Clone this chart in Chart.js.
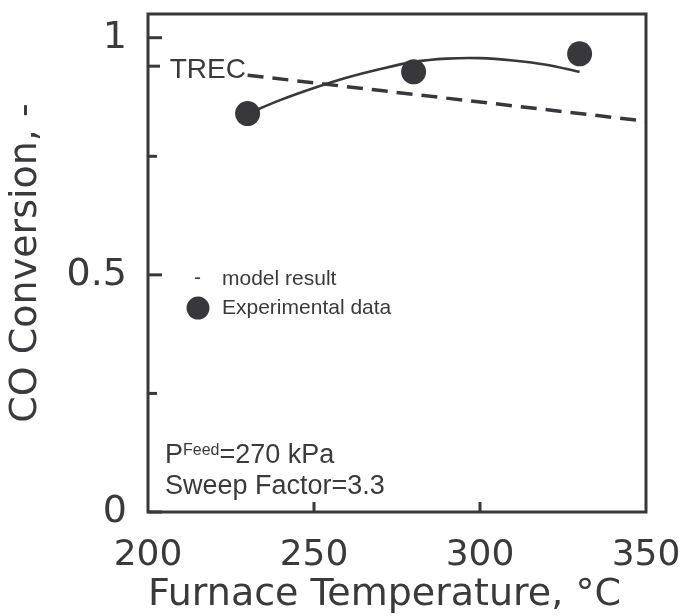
<!DOCTYPE html>
<html>
<head>
<meta charset="utf-8">
<script src="https://cdn.jsdelivr.net/npm/chart.js@4/dist/chart.umd.min.js"></script>
<style>
  html, body { margin: 0; padding: 0; background: #ffffff; }
  #wrap { width: 680px; height: 616px; position: relative; }
</style>
</head>
<body>
<div id="wrap"><canvas id="c" width="680" height="616"></canvas></div>
<script>
// ---- data ----
const expTemps = [230, 280, 330];
const expConversion = [0.840, 0.928, 0.966];

const fitTemps = [230, 240, 250, 260, 270, 280, 290, 300, 310, 320, 330];
const fitConversion = [0.840, 0.869, 0.894, 0.916, 0.934, 0.949, 0.956, 0.957, 0.952, 0.943, 0.928];

const modelTemps = [230, 350];
const modelConversion = [0.921, 0.824];

const xTickLabels = [200, 250, 300, 350];
const yTickLabels = [0, 0.5, 1];
const yMinorTicks = [0.25, 0.75];
const trecValue = 0.94;
const xInnerTicks = [250, 300];

const INK = '#38383c';
const TEXT = '#3a3a3c';

function pts(xs, ys) { return xs.map((x, i) => ({ x: x, y: ys[i] })); }

const framePlugin = {
  id: 'frame',
  afterDatasetsDraw(chart) {
    const { ctx, chartArea: a, scales: { x, y } } = chart;
    ctx.save();
    ctx.strokeStyle = INK;
    ctx.lineWidth = 3;
    ctx.lineCap = 'butt';
    ctx.strokeRect(a.left, a.top, a.right - a.left, a.bottom - a.top);
    // y tick marks (inside)
    ctx.lineWidth = 3;
    const yMarks = [];
    yTickLabels.forEach(v => yMarks.push([v, 14]));
    yMinorTicks.forEach(v => yMarks.push([v, 9]));
    yMarks.push([trecValue, 12]);
    yMarks.forEach(([v, len]) => {
      const py = y.getPixelForValue(v);
      ctx.beginPath();
      ctx.moveTo(a.left, py);
      ctx.lineTo(a.left + len, py);
      ctx.stroke();
    });
    // x tick marks (inside)
    xInnerTicks.forEach(v => {
      const px = x.getPixelForValue(v);
      ctx.beginPath();
      ctx.moveTo(px, a.bottom);
      ctx.lineTo(px, a.bottom - 10);
      ctx.stroke();
    });

    // annotations
    ctx.fillStyle = TEXT;
    ctx.textBaseline = 'middle';
    // TREC label
    ctx.font = '28px "Liberation Sans", Arial, sans-serif';
    ctx.textAlign = 'right';
    ctx.fillText('TREC', x.getPixelForValue(229.5), y.getPixelForValue(trecValue) + 4);

    // legend
    ctx.textAlign = 'left';
    ctx.font = '21px "Liberation Sans", Arial, sans-serif';
    const lx = a.left + 50, tx = a.left + 74;
    const ly1 = y.getPixelForValue(0.49), ly2 = y.getPixelForValue(0.43);
    ctx.fillText('-', lx - 4, ly1 - 1);
    ctx.fillText('model result', tx, ly1);
    ctx.beginPath();
    ctx.arc(lx, ly2, 11.5, 0, Math.PI * 2);
    ctx.fillStyle = INK;
    ctx.fill();
    ctx.fillStyle = TEXT;
    ctx.fillText('Experimental data', tx, ly2);

    // conditions
    ctx.textBaseline = 'alphabetic';
    const cx = a.left + 17;
    ctx.font = '27px "Liberation Sans", Arial, sans-serif';
    ctx.fillText('P', cx, 463);
    const pw = ctx.measureText('P').width;
    ctx.font = '16px "Liberation Sans", Arial, sans-serif';
    ctx.fillText('Feed', cx + pw, 455);
    const fw = ctx.measureText('Feed').width;
    ctx.font = '27px "Liberation Sans", Arial, sans-serif';
    ctx.fillText('=270 kPa', cx + pw + fw, 463);
    ctx.fillText('Sweep Factor=3.3', cx, 494);
    ctx.restore();
  }
};

new Chart(document.getElementById('c'), {
  type: 'scatter',
  data: {
    datasets: [
      {
        label: 'model result',
        data: pts(modelTemps, modelConversion),
        showLine: true,
        borderColor: INK,
        borderWidth: 3.5,
        borderDash: [16, 9],
        pointRadius: 0,
        fill: false
      },
      {
        label: 'fit',
        data: pts(fitTemps, fitConversion),
        showLine: true,
        borderColor: INK,
        borderWidth: 2.6,
        tension: 0.3,
        pointRadius: 0,
        fill: false
      },
      {
        label: 'Experimental data',
        data: pts(expTemps, expConversion),
        showLine: false,
        pointRadius: 12.5,
        pointBackgroundColor: INK,
        pointBorderColor: INK,
        pointBorderWidth: 0
      }
    ]
  },
  options: {
    responsive: false,
    animation: false,
    layout: { padding: { top: 14, right: 34, left: 0, bottom: 0 } },
    plugins: { legend: { display: false }, tooltip: { enabled: false } },
    scales: {
      x: {
        type: 'linear',
        min: 200, max: 350,
        afterBuildTicks: s => { s.ticks = xTickLabels.map(v => ({ value: v })); },
        afterFit: s => { s.height = 104; s.paddingLeft = 0; s.paddingRight = 0; },
        grid: { display: false },
        border: { display: false },
        ticks: {
          color: TEXT,
          padding: 14,
          maxRotation: 0,
          autoSkip: false,
          font: { family: '"DejaVu Sans"', size: 36 },
          callback: v => String(v)
        },
        title: {
          display: true,
          text: 'Furnace Temperature, °C',
          color: TEXT,
          align: 'start',
          padding: { top: 0, bottom: 0 },
          font: { family: '"DejaVu Sans"', size: 38, lineHeight: 1.1 }
        }
      },
      y: {
        type: 'linear',
        min: 0, max: 1.05,
        afterBuildTicks: s => { s.ticks = yTickLabels.map(v => ({ value: v })); },
        afterFit: s => { s.width = 148; s.paddingTop = 0; s.paddingBottom = 0; },
        grid: { display: false },
        border: { display: false },
        ticks: {
          color: TEXT,
          padding: 13,
          autoSkip: false,
          font: { family: '"DejaVu Sans"', size: 38 },
          callback: v => String(v)
        },
        title: {
          display: true,
          text: 'CO Conversion, -',
          color: TEXT,
          padding: { top: 5, bottom: 0 },
          font: { family: '"DejaVu Sans"', size: 38, lineHeight: 1.1 }
        }
      }
    }
  },
  plugins: [framePlugin]
});
</script>
</body>
</html>
